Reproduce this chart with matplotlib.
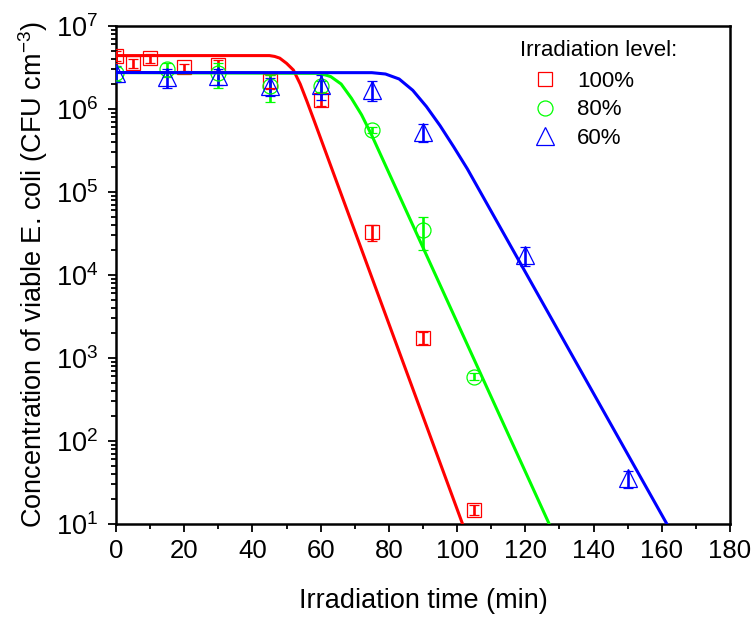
import numpy as np
import matplotlib
matplotlib.use('Agg')
import matplotlib.pyplot as plt
from matplotlib.ticker import MultipleLocator, LogLocator, NullFormatter

plt.rcParams['font.family'] = ['Liberation Sans', 'DejaVu Sans']
plt.rcParams['mathtext.default'] = 'regular'

# measured points (time in min, concentration in CFU cm-3)
t_100 = [0, 5, 10, 20, 30, 45, 60, 75, 90, 105]
n_100 = [4.4e6, 3.6e6, 4.1e6, 3.2e6, 3.4e6, 2.15e6, 1.3e6, 3.3e4, 1.76e3, 14.8]
e_100 = [0.6e6, 0.45e6, 0.5e6, 0.3e6, 0.5e6, 0.4e6, 0.2e6, 0.75e4, 0.3e3, 2.0]

t_80 = [0, 15, 30, 45, 60, 75, 90, 105]
n_80 = [2.7e6, 3.0e6, 2.7e6, 1.9e6, 1.9e6, 5.6e5, 3.5e4, 596]
e_80 = [0.5e6, 0.6e6, 0.9e6, 0.7e6, 0.3e6, 0.5e5, 1.5e4, 60]

t_60 = [0, 15, 30, 45, 60, 75, 90, 120, 150]
n_60 = [2.7e6, 2.4e6, 2.5e6, 1.9e6, 1.95e6, 1.7e6, 5.3e5, 1.74e4, 35.5]
e_60 = [0.6e6, 0.6e6, 0.55e6, 0.45e6, 0.65e6, 0.45e6, 1.3e5, 0.45e4, 8.5]

# fitted curves
fit_t_100 = [0, 45, 46.5, 48, 50, 52, 54, 56, 58, 101.6]
fit_n_100 = [4.4e6, 4.4e6, 4.3e6, 4.1e6, 3.55e6, 2.95e6, 2.0e6, 1.23e6, 7.4e5, 10]

fit_t_80 = [0, 60, 63, 66, 69, 72, 75, 127]
fit_n_80 = [2.75e6, 2.69e6, 2.45e6, 2.0e6, 1.35e6, 8.5e5, 4.8e5, 10]

fit_t_60 = [0, 75, 79, 83, 87, 91, 95, 99, 103, 161.5]
fit_n_60 = [2.75e6, 2.74e6, 2.64e6, 2.3e6, 1.68e6, 1.07e6, 6.3e5, 3.5e5, 1.9e5, 10]

fig = plt.figure(figsize=(7.56, 6.19), dpi=100)
ax = fig.add_axes([116/756, 1-524/619, 614/756, 498/619])

series = [
    (t_100, n_100, e_100, fit_t_100, fit_n_100, '#ff0000', 's', 9.4, '100%'),
    (t_80, n_80, e_80, fit_t_80, fit_n_80, '#00ff00', 'o', 10.8, '80%'),
    (t_60, n_60, e_60, fit_t_60, fit_n_60, '#0000ff', '^', 12.5, '60%'),
]

for t, n, e, ft, fn, col, mk, ms, lab in series:
    ax.errorbar(t, n, yerr=e, fmt=mk, mfc='none', mec=col, ms=ms, mew=0.9,
                ecolor=col, elinewidth=1.9, capsize=3.6, capthick=1.9,
                label=lab, zorder=3)
for t, n, e, ft, fn, col, mk, ms, lab in series:
    ax.plot(ft, fn, color=col, lw=2.2, zorder=4)

ax.set_yscale('log')
ax.set_xlim(0, 180)
ax.set_ylim(10, 1e7)
ax.xaxis.set_major_locator(MultipleLocator(20))
ax.xaxis.set_minor_locator(MultipleLocator(10))
ax.yaxis.set_minor_locator(LogLocator(base=10, subs=np.arange(2, 10)))
ax.yaxis.set_minor_formatter(NullFormatter())

ax.tick_params(which='both', direction='out', top=False, right=False,
               width=1.3, labelsize=18.5)
ax.tick_params(which='major', length=6)
ax.tick_params(which='minor', length=3.5)
ax.tick_params(axis='y', which='major', pad=7, labelsize=19.5)
ax.tick_params(axis='x', which='major', pad=5)
for sp in ax.spines.values():
    sp.set_linewidth(1.8)

ax.set_xlabel('Irradiation time (min)', fontsize=19.5, labelpad=18)
ax.set_ylabel('Concentration of viable E. coli (CFU cm$^{-3}$)', fontsize=19.5, labelpad=4)

handles, labels = ax.get_legend_handles_labels()
handles = [h[0] for h in handles]
fig.text(520/756, 1-50/619, 'Irradiation level:', fontsize=16, ha='left', va='center')
leg = ax.legend(handles, labels, loc='upper left',
                bbox_to_anchor=(0.662, 1-(71-26)/498), frameon=False, fontsize=16,
                handlelength=2.0, handletextpad=0.45, labelspacing=0.33,
                borderpad=0, borderaxespad=0)

fig.savefig('out.png', dpi=100)
